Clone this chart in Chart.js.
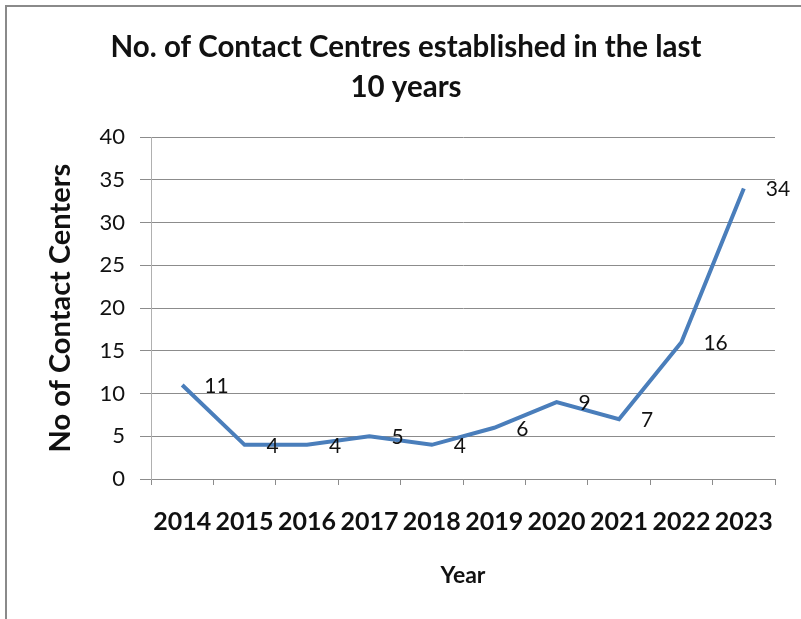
<!DOCTYPE html>
<html>
<head>
<meta charset="utf-8">
<script src="https://cdn.jsdelivr.net/npm/chart.js@4"></script>
<style>
    html, body { margin: 0; padding: 0; background: #ffffff; }
    #wrap { position: relative; width: 801px; height: 619px; overflow: hidden; }
    #frame {
        position: absolute; left: 5px; top: 5px; width: 820px; height: 640px;
        border-top: 2px solid #8a8a8a; border-left: 2px solid #8a8a8a;
    }
    #chart { position: absolute; left: 0; top: 0; }
</style>
</head>
<body>
<div id="wrap">
    <div id="frame"></div>
    <canvas id="chart" width="801" height="619"></canvas>
</div>
<script>
// Chart data
const years = ['2014', '2015', '2016', '2017', '2018', '2019', '2020', '2021', '2022', '2023'];
const centres = [11, 4, 4, 5, 4, 6, 9, 7, 16, 34];
const titleLines = ['No. of Contact Centres established in the last', '10 years'];

// Simple value labels to the right of each point (Excel style)
const valueLabels = {
    id: 'valueLabels',
    afterDatasetsDraw(chart) {
        const ctx = chart.ctx;
        const meta = chart.getDatasetMeta(0);
        const values = chart.data.datasets[0].data;
        ctx.save();
        ctx.font = '21px Lato';
        ctx.fillStyle = '#111111';
        ctx.textAlign = 'left';
        ctx.textBaseline = 'middle';
        meta.data.forEach(function(pt, i) {
            ctx.fillText(String(values[i]), pt.x + 22, pt.y + 1);
        });
        ctx.restore();
    }
};

document.addEventListener('DOMContentLoaded', function() {
    const ctx = document.getElementById('chart').getContext('2d');

    new Chart(ctx, {
        type: 'line',
        data: {
            labels: years,
            datasets: [{
                label: 'No of Contact Centers',
                data: centres,
                borderColor: '#4a7ebb',
                borderWidth: 4,
                pointRadius: 0,
                tension: 0,
                fill: false
            }]
        },
        options: {
            responsive: false,
            animation: false,
            layout: {
                padding: { left: 37, right: 26, top: 0, bottom: 0 }
            },
            scales: {
                x: {
                    offset: true,
                    afterFit: function(scale) { scale.height = 140; },
                    grid: {
                        offset: true,
                        drawOnChartArea: false,
                        drawTicks: true,
                        tickLength: 6,
                        color: '#8c8c8c'
                    },
                    border: { display: true, color: '#8c8c8c', width: 1 },
                    ticks: {
                        color: '#111111',
                        font: { family: 'Lato', size: 25, weight: 'bold' },
                        padding: 22,
                        maxRotation: 0,
                        autoSkip: false
                    },
                    title: {
                        display: true,
                        text: 'Year',
                        color: '#111111',
                        font: { family: 'Lato', size: 23, weight: 'bold' },
                        padding: { top: 0, bottom: 30 }
                    }
                },
                y: {
                    min: 0,
                    max: 40,
                    afterFit: function(scale) { scale.width = 114; },
                    ticks: {
                        stepSize: 5,
                        color: '#111111',
                        font: { family: 'Lato', size: 22 },
                        padding: 15
                    },
                    grid: {
                        color: '#8c8c8c',
                        tickLength: 11
                    },
                    border: { display: true, color: '#b0b0b0', width: 1 },
                    title: {
                        display: true,
                        text: 'No of Contact Centers',
                        color: '#111111',
                        font: { family: 'Lato', size: 29, weight: 'bold' },
                        padding: { top: 6, bottom: 0 }
                    }
                }
            },
            plugins: {
                legend: { display: false },
                tooltip: { enabled: false },
                title: {
                    display: true,
                    text: titleLines,
                    color: '#111111',
                    font: { family: 'Lato', size: 29.5, weight: 'bold', lineHeight: 1.36 },
                    padding: { top: 27, bottom: 30 }
                }
            }
        },
        plugins: [valueLabels]
    });
});
</script>
</body>
</html>
